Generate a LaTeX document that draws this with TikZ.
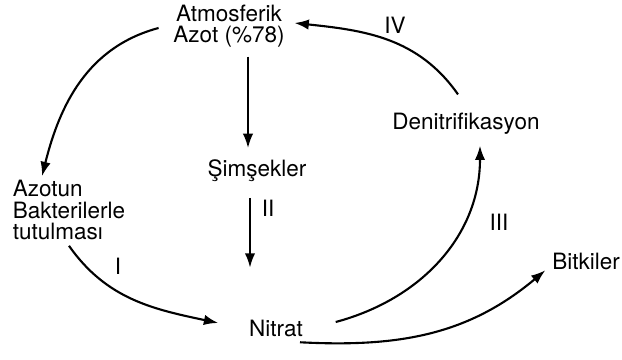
\documentclass[tikz,border=0pt]{standalone}
\usepackage{fontspec}
\setmainfont{TeX Gyre Heros}
\usetikzlibrary{arrows.meta, positioning, calc}

\begin{document}
\begin{tikzpicture}[
    x=0.025cm, y=0.025cm,
    font=\fontsize{16}{14.5}\selectfont,
    term/.style={align=center, inner sep=4pt},
    stage/.style={inner sep=2pt},
    arrow/.style={-{Latex[length=3.6mm, width=2.6mm]}, line width=1.5pt}
]
    \useasboundingbox (0,0) rectangle (622,360);

    % Cycle Nodes
    \node[term] (atm) at (229,334) {Atmosferik\\Azot (\%78)};
    \node[term] (sim) at (257,189) {Şimşekler};
    \node[term, align=left, anchor=west, font=\fontsize{16}{15.3}\selectfont] (azb) at (7,150) {Azotun\\Bakterilerle\\tutulması};
    \node[term] (nit) at (276,32) {Nitrat};
    \node[term] (den) at (466,236) {Denitrifikasyon};
    \node[term] (bit) at (586,99) {Bitkiler};

    % Stage Labels
    \node[stage] (s1) at (118,94) {I};
    \node[stage] (s2) at (268,152) {II};
    \node[stage] (s3) at (499,138) {III};
    \node[stage] (s4) at (395,335) {IV};

    % Connectors
    \draw[arrow] ($(atm.west)+(-9,-2)$) to[out=195, in=76] ($(azb.north west)+(35,-2)$);
    \draw[arrow] ($(atm.south)+(19,-4)$) -- ($(sim.north)+(-9,6)$);
    \draw[arrow] ($(sim.south)+(-7,-10)$) -- ($(nit.north)+(-26,46)$);
    \draw[arrow] (azb.south) to[out=-55, in=168] ($(nit.west)+(-25,5)$);
    \draw[arrow] ($(nit.east)+(27,6)$) to[out=15, in=-90] ($(den.south)+(14,-5)$);
    \draw[arrow] ($(nit.south)+(24,0)$) to[out=-3, in=220] ($(bit.south west)+(-1,5)$);
    \draw[arrow] ($(den.north)+(-8,13)$) to[out=125, in=-6] ($(atm.east)+(4,3)$);
\end{tikzpicture}
\end{document}
